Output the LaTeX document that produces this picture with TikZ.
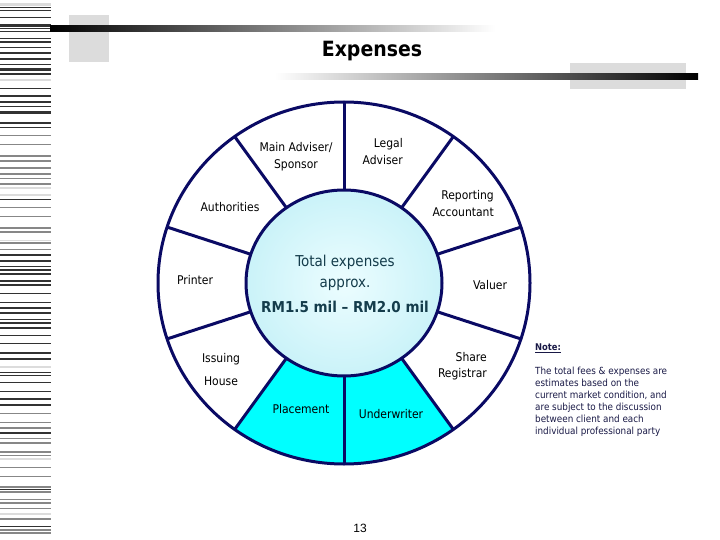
\documentclass[tikz,border=0pt]{standalone}
\usepackage{fontspec}
\setmainfont{DejaVu Sans Condensed}
\newfontfamily\arialf{Liberation Sans}
\usetikzlibrary{calc}
\definecolor{navy}{RGB}{10,10,100}
\definecolor{ringcyan}{RGB}{0,255,255}
\definecolor{ctext}{RGB}{20,60,75}
\definecolor{notec}{RGB}{25,25,70}
\definecolor{stD}{RGB}{50,50,50}
\definecolor{stM}{RGB}{135,135,135}
\definecolor{stL}{RGB}{220,220,220}
\definecolor{boxgray}{RGB}{220,220,220}
\definecolor{shin}{RGB}{236,253,255}
\definecolor{shout}{RGB}{168,232,242}
\pgfdeclareradialshading{hubshade}{\pgfpoint{0bp}{0bp}}{color(0bp)=(shin); color(50bp)=(shout)}
\begin{document}
\begin{tikzpicture}[x=1pt,y=-1pt,
  ringline/.style={navy, line width=3pt},
  lab/.style={font=\fontsize{12}{16.5}\selectfont, text=black, align=center, inner sep=0pt},
  hubtext/.style={font=\fontsize{15}{18}\selectfont, text=ctext, inner sep=0pt},
  notetext/.style={font=\fontsize{9.8}{12}\selectfont, text=notec, align=left, inner sep=0pt, anchor=north west}]
\useasboundingbox (0,0) rectangle (720,540);
% left stripes
\foreach \y/\w/\c in {5/3/stL, 8/1/stD, 11/1/stD, 18/1/stD, 25.5/3/stD, 29/1/stD, 32/1/stD, 39/1/stD, 42/2.5/stD, 48/1/stD, 53/1.5/stD, 59/1.5/stD, 65/1/stD, 70/3/stD, 74/1.5/stD, 80/1.5/stL, 89/1/stD, 96/1.5/stD, 102/1.5/stD, 107/1/stD, 113/3/stD, 123/2.5/stD, 128/1/stD, 136/1/stM, 145/1/stM, 156/1.5/stM, 161/1.5/stM, 168/1.5/stM, 174/1.5/stM, 179/1/stM, 184/2.5/stM, 188/1.5/stL, 195/2.5/stL, 200/1/stD, 208/1/stM, 217/1/stM, 228/1.5/stM, 232/1.5/stM, 240/1/stL, 243/1.5/stM, 249/1/stM, 255/2/stD, 261/2/stD, 266/1/stD, 270/2.5/stD, 274/1.5/stD, 281/2/stD, 285/1.5/stD, 293/1/stD, 302/1/stD, 308/2/stD, 313/2/stD, 319/1/stD, 323/2.5/stD, 328/1.5/stD, 335/1/stD, 343/1/stD, 353/2/stD, 359/2/stD, 367/2.5/stL, 372/1/stD, 375/1/stD, 382/1/stD, 391/1/stD, 399/2/stD, 405/2/stD, 413/1/stM, 422/1/stM, 428/1.5/stM, 433/2/stD, 438/1/stM, 443/2.5/stM, 452/2.5/stM, 455/1/stM, 459/1.5/stL, 467/1/stM, 476/1/stM, 487/1.5/stM, 489/1/stD, 492/1.5/stM, 499/1/stM, 503/1.5/stM, 508/1/stM, 514/2/stL, 519/1.5/stM, 526/1/stD, 530/1.5/stM, 533/1.5/stM}
  \draw[\c, line width=\w pt] (0,\y) -- (51,\y);
% header decoration
\fill[boxgray] (69,15) rectangle (109,62);
\fill[boxgray] (570,63) rectangle (686,89);
\shade[left color=black, right color=white] (50,26) rectangle (495,32);
\shade[left color=white, right color=black] (275,74) rectangle (698,80);
\node[font=\fontsize{21}{24}\selectfont\bfseries, inner sep=0pt] (title) at (372,51) {Expenses};
% ring
\coordinate (C) at (344,283);
\fill[ringcyan] ($(C)+({186*cos(126)},{181*sin(126)})$) arc[start angle=126, end angle=54, x radius=186, y radius=181]
  -- ($(C)+({98*cos(54)},{93*sin(54)})$) arc[start angle=54, end angle=126, x radius=98, y radius=93] -- cycle;
\draw[ringline] (C) ellipse[x radius=186, y radius=181];
\foreach \a in {90,54,18,-18,-54,-90,-126,-162,162,126}
  \draw[ringline] ($(C)+({98*cos(\a)},{-93*sin(\a)})$) -- ($(C)+({186*cos(\a)},{-181*sin(\a)})$);
\shade[shading=hubshade] (C) ellipse[x radius=98, y radius=93];
\draw[ringline] (C) ellipse[x radius=98, y radius=93];
% hub text
\node[hubtext] (t1) at (345,262) {Total expenses};
\node[hubtext] (t2) at (345,285) {approx.};
\node[hubtext, font=\fontsize{15}{18}\selectfont\bfseries] (t3) at (345,307) {RM1.5 mil – RM2.0 mil};
% segment labels
\node[lab] (mainadv) at (296,156.5) {Main Adviser/\\Sponsor};
\node[lab, align=right, anchor=east] (legal) at (403,151.5) {Legal\\Adviser};
\node[lab, align=right, anchor=east] (reporting) at (494,203.5) {Reporting\\Accountant};
\node[lab] (valuer) at (490,285) {Valuer};
\node[lab, align=right, anchor=east] (share) at (487,366) {Share\\Registrar};
\node[lab] (underwriter) at (391,414) {Underwriter};
\node[lab] (placement) at (301,409) {Placement};
\node[lab, font=\fontsize{12}{23}\selectfont] (issuing) at (221,369.5) {Issuing\\House};
\node[lab] (printer) at (195,280) {Printer};
\node[lab] (authorities) at (230,207) {Authorities};
% note
\node[notetext, font=\fontsize{9.3}{10}\selectfont\bfseries] (note) at (535,344) {\underline{Note:}};
\node[notetext] (notebody) at (535,367) {The total fees \& expenses are\\estimates based on the\\current market condition, and\\are subject to the discussion\\between client and each\\individual professional party};
% page number
\node[font=\arialf\fontsize{12}{14}\selectfont, inner sep=0pt] (pnum) at (360,528) {13};
\end{tikzpicture}
\end{document}
